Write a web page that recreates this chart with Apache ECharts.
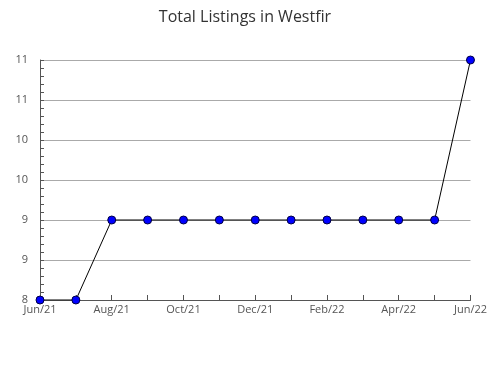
<!DOCTYPE html>
<html><head><meta charset="utf-8">
<script src="https://cdn.jsdelivr.net/npm/echarts@6/dist/echarts.min.js"></script>
<style>html,body{margin:0;padding:0;background:#fff}#c{width:490px;height:380px}</style>
</head><body><div id="c"></div>
<script>
const categories = ['Jun/21','Jul/21','Aug/21','Sep/21','Oct/21','Nov/21','Dec/21','Jan/22','Feb/22','Mar/22','Apr/22','May/22','Jun/22'];
const listings = [8, 8, 9, 9, 9, 9, 9, 9, 9, 9, 9, 9, 11];
const chartTitle = 'Total Listings in Westfir';

const chart = echarts.init(document.getElementById('c'));
const font = '"Open Sans", "Noto Sans", sans-serif';
chart.setOption({
  animation: false,
  title: { text: chartTitle, left: 'center', top: 4, textStyle: { fontFamily: font, fontSize: 16, fontWeight: 'normal', color: '#333' } },
  grid: { left: 40, right: 19, top: 60, bottom: 80, containLabel: false },
  xAxis: {
    type: 'category', data: categories, boundaryGap: false,
    axisLine: { lineStyle: { color: '#555' } },
    axisTick: { inside: true, length: 5, interval: 0, lineStyle: { color: '#555' } },
    axisLabel: { interval: 1, fontFamily: font, fontSize: 11, color: '#555', margin: 4 },
    splitLine: { show: false }
  },
  yAxis: {
    type: 'value', min: 8, max: 11, interval: 0.5,
    axisLine: { show: true, lineStyle: { color: '#555' } },
    axisTick: { show: true, inside: true, length: 4, lineStyle: { color: '#555' } },
    minorTick: { show: true, splitNumber: 5, length: 4, lineStyle: { color: '#555' } },
    axisLabel: { fontFamily: font, fontSize: 11, color: '#555', margin: 12, formatter: v => String(Math.round(v)) },
    splitLine: { show: true, lineStyle: { color: '#aaa' } }
  },
  series: [{
    type: 'line', data: listings, symbol: 'circle', symbolSize: 8,
    lineStyle: { color: '#000', width: 1 },
    itemStyle: { color: '#0000ff', borderColor: '#000044', borderWidth: 1 }
  }]
});
</script></body></html>
